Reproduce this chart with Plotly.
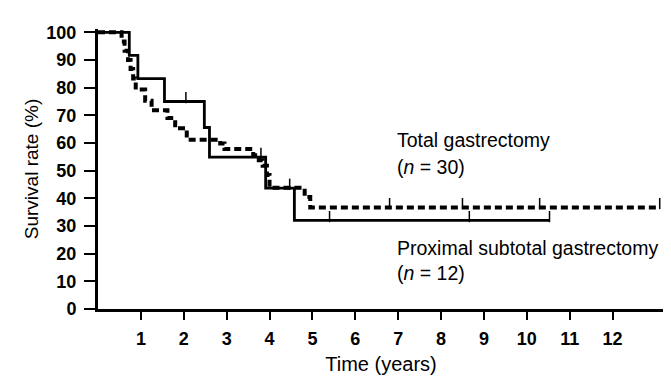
import plotly.graph_objects as go

# ---- data ----
x_tick_vals = list(range(1, 13))
y_tick_vals = list(range(0, 101, 10))

# Total gastrectomy (n = 30): step times (years) and survival (%) after each step
total_times = [0, 0.55, 0.62, 0.70, 0.76, 0.82, 0.88, 1.10, 1.25, 1.62, 1.80, 2.07, 2.85, 2.95, 3.62, 3.75, 3.84, 3.94, 4.00, 4.82, 4.95]
total_surv = [100, 96.7, 93.3, 90.0, 86.7, 83.3, 79.3, 75.3, 71.8, 69.0, 65.3, 61.2, 59.8, 57.8, 55.6, 53.8, 51.8, 48.4, 43.8, 40.5, 36.7]
total_end = 13.1
total_censor = [6.8, 8.5, 10.3, 13.1]

# Proximal subtotal gastrectomy (n = 12)
prox_times = [0, 0.73, 0.93, 1.55, 2.48, 2.60, 3.91, 4.58]
prox_surv = [100, 91.7, 83.3, 75.0, 65.6, 54.9, 43.7, 32.0]
prox_end = 10.53
prox_censor = [2.05, 3.8, 4.47, 5.4, 8.66, 10.53]

labels = {
    "total": ["Total gastrectomy", "(<i>n</i> = 30)"],
    "prox": ["Proximal subtotal gastrectomy", "(<i>n</i> = 12)"],
}

FONT = "Liberation Sans, Arial, Helvetica, sans-serif"


def surv_at(times, surv, t):
    v = surv[0]
    for ti, si in zip(times, surv):
        if ti <= t:
            v = si
    return v


fig = go.Figure()

fig.add_trace(go.Scatter(
    x=total_times + [total_end], y=total_surv + [total_surv[-1]],
    mode="lines", line=dict(color="black", width=4, dash="7px,4px", shape="hv"),
    showlegend=False, hoverinfo="skip"))

fig.add_trace(go.Scatter(
    x=prox_times + [prox_end], y=prox_surv + [prox_surv[-1]],
    mode="lines", line=dict(color="black", width=2.8, shape="hv"),
    showlegend=False, hoverinfo="skip"))

tick_lift = 1.4
fig.add_trace(go.Scatter(
    x=total_censor, y=[surv_at(total_times, total_surv, t) + tick_lift for t in total_censor],
    mode="markers", marker=dict(symbol="line-ns", size=8, line=dict(color="black", width=1.5)),
    showlegend=False, hoverinfo="skip"))
fig.add_trace(go.Scatter(
    x=prox_censor, y=[surv_at(prox_times, prox_surv, t) + tick_lift for t in prox_censor],
    mode="markers", marker=dict(symbol="line-ns", size=8, line=dict(color="black", width=1.5)),
    showlegend=False, hoverinfo="skip"))

ann_font = dict(family=FONT, size=19.5, color="black")
for txt, yv in [(labels["total"][0], 61), (labels["total"][1], 51.5),
                (labels["prox"][0], 22.2), (labels["prox"][1], 13)]:
    fig.add_annotation(x=6.93, y=yv, xref="x", yref="y", text=txt, showarrow=False,
                       xanchor="left", yanchor="middle", font=ann_font)

fig.update_layout(
    width=671, height=376,
    margin=dict(l=90, r=15, t=21, b=75),
    paper_bgcolor="white", plot_bgcolor="white",
    font=dict(family=FONT, color="black"),
    xaxis=dict(
        range=[0, 13.2], tickvals=x_tick_vals, ticktext=[str(v) for v in x_tick_vals],
        showline=True, linewidth=3, linecolor="black", mirror=False,
        ticks="outside", ticklen=8, tickwidth=2, tickcolor="black",
        ticklabelstandoff=3,
        showgrid=False, zeroline=False,
        tickfont=dict(family=FONT, size=18, color="black", weight="bold"),
        title=dict(text="Time (years)", font=dict(family=FONT, size=20, color="black"), standoff=10),
    ),
    yaxis=dict(
        range=[0, 101.2], tickvals=y_tick_vals, ticktext=[str(v) for v in y_tick_vals],
        showline=True, linewidth=3, linecolor="black", mirror=False,
        ticks="outside", ticklen=11, tickwidth=2, tickcolor="black",
        ticklabelstandoff=4,
        showgrid=False, zeroline=False,
        tickfont=dict(family=FONT, size=18, color="black", weight="bold"),
        title=dict(text="Survival rate (%)", font=dict(family=FONT, size=19, color="black"), standoff=3),
    ),
)

fig.write_html("out.html")
